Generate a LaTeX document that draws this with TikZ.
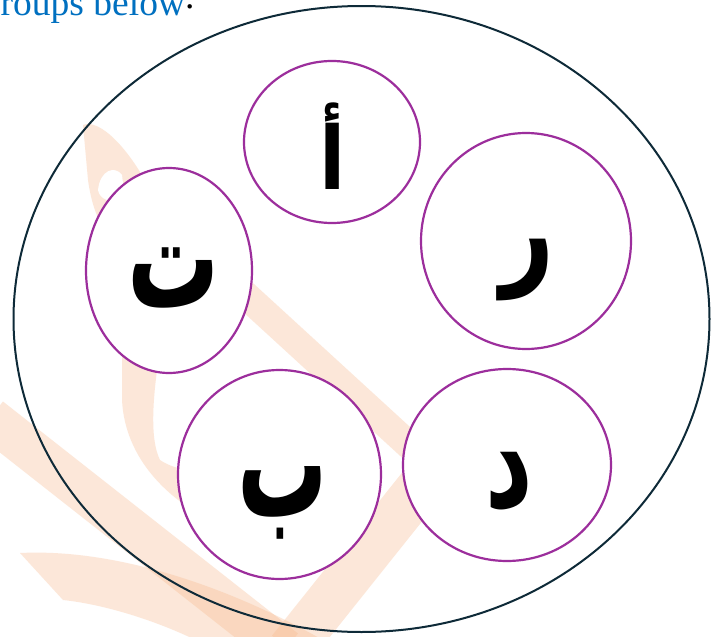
\documentclass[tikz,border=0pt]{standalone}
\usepackage{fontspec}
\usetikzlibrary{shapes.geometric}
\setmainfont{Liberation Serif}
\newfontfamily\arabicfont[Script=Arabic]{DejaVu Sans}
\TeXXeTstate=1
\definecolor{hdrblue}{HTML}{0070C0}
\definecolor{rimnavy}{HTML}{0E2A38}
\definecolor{ringpurple}{HTML}{9C2E9C}
\definecolor{wmorange}{HTML}{F7B98C}
\newcommand{\arlet}[3]{\scalebox{#1}[#2]{\beginR #3\endR}}
\tikzset{
  ring/.style={ellipse, draw=ringpurple, line width=2.2pt, fill=white, inner sep=0pt, outer sep=0pt},
  rim/.style={ellipse, draw=rimnavy, line width=2pt, inner sep=0pt, outer sep=0pt},
  letter/.style={inner sep=0pt, outer sep=0pt, font=\arabicfont\bfseries\fontsize{90}{100}\selectfont},
  hdrtext/.style={inner sep=0pt, outer sep=0pt, anchor=base west, font=\fontsize{37.5}{42}\selectfont},
  wm/.style={draw=wmorange, opacity=0.33, line cap=butt},
  wmfill/.style={fill=wmorange, opacity=0.33}
}
\begin{document}
\begin{tikzpicture}[x=1pt,y=-1pt]
\useasboundingbox (0,0) rectangle (713,637);
\clip (0,0) rectangle (713,637);
\fill[white] (0,0) rectangle (713,637);
% watermark
\draw[wm, line width=42pt] (-10,418) -- (285,650);
\fill[wmfill] (20,553) .. controls (120,548) and (240,590) .. (340,650) -- (215,650) .. controls (170,625) and (110,605) .. (63,600) -- cycle;
\draw[wm, line width=46pt] (440,462) -- (290,650);
\draw[wm, line width=28pt] (242,292) -- (445,478);
\fill[wmfill] (83,125) .. controls (100,118) and (130,150) .. (150,190) -- (175,215) -- (150,260) .. controls (115,250) and (95,230) .. (88,180) -- cycle;
\fill[white] (98,190) .. controls (100,170) and (115,165) .. (122,175) -- (125,200) .. controls (110,203) and (100,200) .. (98,190) -- cycle;
\fill[wmfill] (122,340) -- (160,350) .. controls (152,400) and (150,440) .. (160,460) .. controls (175,470) and (190,470) .. (200,470) -- (210,520) .. controls (170,500) and (125,460) .. (122,400) -- cycle;
% header
\node[hdrtext, text=hdrblue] (hdr) at (-18,16) {groups below};
\node[hdrtext, text=black] (hdrdot) at ([yshift=7pt]hdr.base east) {.};
% outer ring
\node[rim, minimum width=696pt, minimum height=626pt] (outer) at (361.5,319) {};
% small rings
\node[ring, minimum width=176pt, minimum height=162pt] (ringA) at (332,142) {};
\node[ring, minimum width=166pt, minimum height=205pt] (ringT) at (169,270.5) {};
\node[ring, minimum width=203pt, minimum height=209pt] (ringB) at (279.5,474.5) {};
\node[ring, minimum width=210pt, minimum height=216pt] (ringR) at (526,241) {};
\node[ring, minimum width=208pt, minimum height=192pt] (ringD) at (507,465) {};
% letters
\node[letter] (letA) at (332.5,146.5) {\arlet{0.85}{0.97}{أ}};
\node[letter] (letT) at (174,278.5) {\arlet{1.02}{1.6}{ت}};
\node[letter] (letB) at (282.5,503) {\arlet{1.0}{1.7}{ب}};
\node[letter] (letR) at (527.5,270.5) {\arlet{1.04}{1.34}{ر}};
\node[letter] (letD) at (509.5,481.5) {\arlet{1.03}{1.48}{د}};
\end{tikzpicture}
\end{document}
